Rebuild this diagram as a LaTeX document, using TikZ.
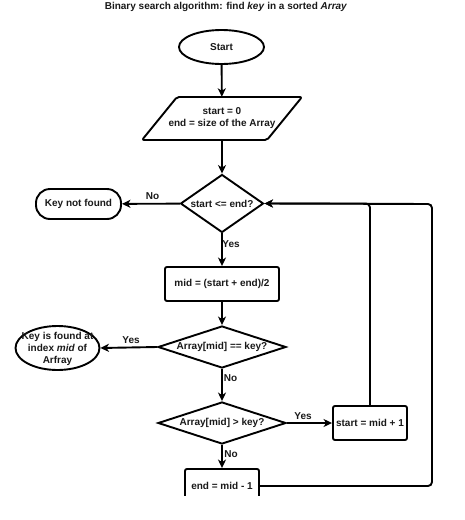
\documentclass[tikz,border=0pt]{standalone}
\usepackage{fontspec}
\setmainfont{Liberation Sans}
\usetikzlibrary{shapes.geometric,arrows.meta}
\begin{document}
\begin{tikzpicture}[x=1pt,y=-1pt,
  every node/.style={font=\fontsize{10}{12}\selectfont\bfseries, text=black!90},
  base/.style={draw, line width=1.9pt, inner sep=0pt},
  term/.style={base, ellipse},
  pill/.style={base, rectangle, rounded corners=14pt},
  proc/.style={base, rectangle, rounded corners=2pt},
  dec/.style={base, diamond},
  conn/.style={line width=1.9pt, ->},
  lbl/.style={inner sep=0pt},
  >={Stealth[length=8.5pt,width=8pt,inset=2.5pt]}]
\useasboundingbox (0,0) rectangle (464,520);

\node[lbl] (title) at (226,7) {Binary search algorithm: find \textit{key} in a sorted \textit{Array}};

\node[term, minimum width=85pt, minimum height=34pt] (start) at (221.5,47) {Start};

\node[inner sep=0pt, minimum width=125pt, minimum height=43pt, align=center] (init) at (222,118.5) {start = 0\\end = size of the Array};
\draw[line width=1.9pt, rounded corners=2pt, line join=round] (177,97) -- (302,97) -- (267,140) -- (142,140) -- cycle;

\node[dec, aspect=1.43, minimum width=83pt, minimum height=58pt] (dec1) at (222,203.5) {start <= end?};
\node[pill, minimum width=85pt, minimum height=30pt] (knf) at (78.5,204) {Key not found};

\node[proc, minimum width=114pt, minimum height=34pt] (mid) at (222,284) {mid = (start + end)/2};

\node[dec, aspect=3.05, minimum width=128pt, minimum height=42pt] (dec2) at (222,347) {Array[mid] == key?};
\node[term, minimum width=84pt, minimum height=44pt] (kf) at (57.5,348) {};
\node[lbl, align=center] (kft) at (57.5,348.5) {Key is found at\\index \textit{mid} of\\Arfray};

\node[dec, aspect=3.05, minimum width=128pt, minimum height=42pt] (dec3) at (222,423) {Array[mid] > key?};
\node[proc, minimum width=74pt, minimum height=34pt] (inc) at (370,423) {start = mid + 1};

\begin{scope}
\clip (0,0) rectangle (464,495);
\node[proc, minimum width=74pt, minimum height=34pt] (endb) at (222,486) {end = mid - 1};
\end{scope}

\coordinate (rc) at (432,204);

\draw[conn] (start) -- (init);
\draw[conn] (init) -- (dec1);
\draw[conn] (dec1) -- (knf);
\draw[conn] (dec1) -- (mid);
\draw[conn] (mid) -- (dec2);
\draw[conn] (dec2.west) -- (kf.east);
\draw[conn] (dec2) -- (dec3);
\draw[conn] (dec3) -- (inc);
\draw[conn] (dec3) -- (endb);
\draw[conn, rounded corners=4pt] (inc.north) |- (dec1.east);
\draw[conn, rounded corners=4pt] (endb.east) -| (rc) -- (dec1.east);

\node[lbl] (l1) at (152.5,196) {No};
\node[lbl] (l2) at (231,244) {Yes};
\node[lbl] (l3) at (131,340) {Yes};
\node[lbl] (l4) at (230.5,378) {No};
\node[lbl] (l5) at (303,416) {Yes};
\node[lbl] (l6) at (231,454) {No};
\end{tikzpicture}
\end{document}
